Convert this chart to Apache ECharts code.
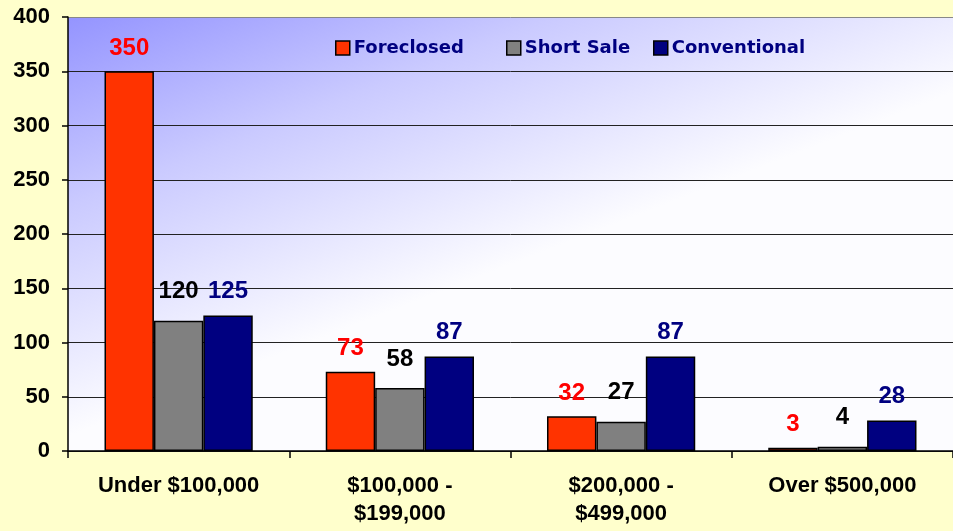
<!DOCTYPE html>
<html>
<head>
<meta charset="utf-8">
<script src="https://cdn.jsdelivr.net/npm/echarts@6/dist/echarts.min.js"></script>
<style>
  html, body { margin: 0; padding: 0; background: #FFFFCC; }
  #chart { width: 953px; height: 531px; }
</style>
</head>
<body>
<div id="chart"></div>
<script>
// Home sales by price range and sale type
const categories = ['Under $100,000', '$100,000 -\n$199,000', '$200,000 -\n$499,000', 'Over $500,000'];
const foreclosed = [350, 73, 32, 3];
const shortSale = [120, 58, 27, 4];
const conventional = [125, 87, 87, 28];
const yTicks = { min: 0, max: 400, interval: 50 };

const chart = echarts.init(document.getElementById('chart'));

const boldArial = 'Liberation Sans, Arial, sans-serif';

function barSeries(name, data, fill, labelColor, dist) {
  return {
    name: name,
    type: 'bar',
    data: data,
    barGap: '0%',
    barCategoryGap: '33%',
    itemStyle: { color: fill, borderColor: '#000', borderWidth: 1.5 },
    label: {
      show: true,
      position: 'top',
      distance: dist,
      color: labelColor,
      fontFamily: boldArial,
      fontWeight: 'bold',
      fontSize: 24
    },
    emphasis: { disabled: true }
  };
}

function legendItem(name, left) {
  return {
    left: left, top: 34,
    itemWidth: 14, itemHeight: 14,
    icon: 'rect',
    itemStyle: { borderColor: '#000', borderWidth: 1.5 },
    selectedMode: false,
    textStyle: {
      color: '#000080',
      fontFamily: 'DejaVu Sans, sans-serif',
      fontWeight: 'bold',
      fontSize: 18,
      padding: [0, 0, 0, -1]
    },
    data: [name]
  };
}

// split lines from 0 up to 400; the top edge is drawn grey
const splitColors = ['#222', '#222', '#222', '#222', '#222', '#222', '#222', '#222', '#888'];

chart.setOption({
  animation: false,
  backgroundColor: '#FFFFCC',
  grid: {
    left: 68, right: -3, top: 17, bottom: 80,
    show: true,
    borderWidth: 0,
    backgroundColor: new echarts.graphic.LinearGradient(0, 0, 0.16, 0.84, [
      { offset: 0, color: '#9494FF' },
      { offset: 0.45, color: '#CACAFF' },
      { offset: 1, color: '#FCFCFF' }
    ])
  },
  legend: [
    legendItem('Foreclosed', 330),
    legendItem('Short Sale', 501),
    legendItem('Conventional', 648)
  ],
  xAxis: {
    type: 'category',
    data: categories,
    axisLine: { lineStyle: { color: '#000', width: 1.5 } },
    axisTick: { show: true, length: 7, lineStyle: { color: '#000', width: 1.5 } },
    axisLabel: {
      margin: 21,
      color: '#000',
      fontFamily: boldArial,
      fontWeight: 'bold',
      fontSize: 22,
      lineHeight: 28
    }
  },
  yAxis: {
    type: 'value',
    min: yTicks.min, max: yTicks.max, interval: yTicks.interval,
    axisLine: { show: true, lineStyle: { color: '#000', width: 1.5 } },
    axisTick: { show: true, length: 6, lineStyle: { color: '#000', width: 1.5 } },
    splitLine: { lineStyle: { color: splitColors, width: 1 } },
    axisLabel: {
      margin: 18,
      color: '#000',
      fontFamily: boldArial,
      fontWeight: 'bold',
      fontSize: 22
    }
  },
  series: [
    barSeries('Foreclosed', foreclosed, '#FF3300', '#FF0000', 11),
    barSeries('Short Sale', shortSale, '#808080', '#000000', 17),
    barSeries('Conventional', conventional, '#000080', '#000080', 12)
  ]
});
</script>
</body>
</html>
